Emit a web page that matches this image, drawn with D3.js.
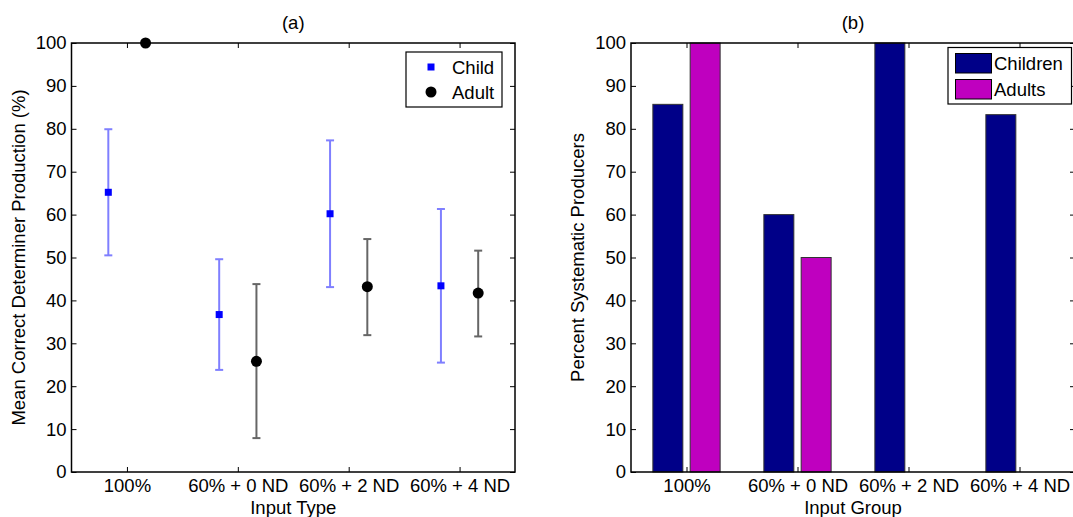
<!DOCTYPE html>
<html>
<head>
<meta charset="utf-8">
<script src="https://cdn.jsdelivr.net/npm/d3@7"></script>
<style>
  body { margin: 0; background: #fff; }
  svg text { font-family: "Liberation Sans", Arial, sans-serif; fill: #000; }
</style>
</head>
<body>
<div id="container"></div>
<script>
// data
const groups = ["100%", "60% + 0 ND", "60% + 2 ND", "60% + 4 ND"];
const childMean = [65.2, 36.7, 60.2, 43.4];
const childHi = [79.9, 49.6, 77.3, 61.3];
const childLo = [50.5, 23.8, 43.1, 25.5];
const adultMean = [100, 25.8, 43.2, 41.7];
const adultHi = [100, 43.8, 54.3, 51.6];
const adultLo = [100, 7.9, 31.9, 31.6];
const childrenPct = [85.7, 60, 100, 83.3];
const adultsPct = [100, 50, 0, 0];
const yTicks = [0, 10, 20, 30, 40, 50, 60, 70, 80, 90, 100];

const w = 1073, h = 517;
const yTop = 43, yBot = 472;
const fs = 18.5;

const svg = d3.select("#container").append("svg").attr("width", w).attr("height", h);

// shared axes drawing, matlab style box with inward ticks
function drawFrame(g, x, y, x0, x1, title, ylabel, xlabel) {
  g.append("g").attr("transform", "translate(" + x0 + ",0)")
    .call(d3.axisLeft(y).tickValues(yTicks).tickSizeInner(-5).tickSizeOuter(0).tickPadding(5))
    .call(a => a.select(".domain").remove())
    .call(a => a.selectAll("text").style("font-size", fs + "px"));
  g.append("g").attr("transform", "translate(" + x1 + ",0)")
    .call(d3.axisRight(y).tickValues(yTicks).tickSizeInner(-5).tickSizeOuter(0).tickFormat(""))
    .call(a => a.select(".domain").remove());
  g.append("g").attr("transform", "translate(0," + yBot + ")")
    .call(d3.axisBottom(x).tickValues([1, 2, 3, 4]).tickSizeInner(-5).tickSizeOuter(0).tickPadding(7)
      .tickFormat(i => groups[i - 1]))
    .call(a => a.select(".domain").remove())
    .call(a => a.selectAll("text").style("font-size", fs + "px"));
  g.append("g").attr("transform", "translate(0," + yTop + ")")
    .call(d3.axisTop(x).tickValues([1, 2, 3, 4]).tickSizeInner(-5).tickSizeOuter(0).tickFormat(""))
    .call(a => a.select(".domain").remove());
  g.selectAll(".tick line").attr("stroke", "#000");
  g.append("rect").attr("x", x0).attr("y", yTop).attr("width", x1 - x0).attr("height", yBot - yTop)
    .attr("fill", "none").attr("stroke", "#000").attr("stroke-width", 1.5);

  g.append("text").attr("x", (x0 + x1) / 2).attr("y", 29).attr("text-anchor", "middle")
    .style("font-size", fs + "px").text(title);
  g.append("text").attr("x", (x0 + x1) / 2).attr("y", 514).attr("text-anchor", "middle")
    .style("font-size", fs + "px").text(xlabel);
  g.append("text").attr("transform", "translate(" + (x0 - 47) + "," + ((yTop + yBot) / 2) + ") rotate(-90)")
    .attr("text-anchor", "middle").style("font-size", fs + "px").text(ylabel);
}

// ---------- panel (a) ----------
const ax0 = 71.5, ax1 = 515;
const xa = d3.scaleLinear().domain([0.5, 4.5]).range([ax0, ax1]);
const ya = d3.scaleLinear().domain([0, 100]).range([yBot, yTop]);
const pa = svg.append("g");
const off = 0.168;

const childPts = groups.map((g, i) => ({ x: i + 1 - off, m: childMean[i], hi: childHi[i], lo: childLo[i] }));
const adultPts = groups.map((g, i) => ({ x: i + 1 + off, m: adultMean[i], hi: adultHi[i], lo: adultLo[i] }));

function errBars(pts, color) {
  const eg = pa.append("g").attr("stroke", color).attr("stroke-width", 2);
  pts.filter(d => d.hi > d.lo).forEach(d => {
    const cx = xa(d.x);
    eg.append("line").attr("x1", cx).attr("x2", cx).attr("y1", ya(d.hi)).attr("y2", ya(d.lo));
    eg.append("line").attr("x1", cx - 4).attr("x2", cx + 4).attr("y1", ya(d.hi)).attr("y2", ya(d.hi));
    eg.append("line").attr("x1", cx - 4).attr("x2", cx + 4).attr("y1", ya(d.lo)).attr("y2", ya(d.lo));
  });
}
errBars(childPts, "#7f7fff");
errBars(adultPts, "#666");

drawFrame(pa, xa, ya, ax0, ax1, "(a)", "Mean Correct Determiner Production (%)", "Input Type");

pa.selectAll("rect.child").data(childPts).enter().append("rect").attr("class", "child")
  .attr("x", d => xa(d.x) - 3.5).attr("y", d => ya(d.m) - 3.5)
  .attr("width", 7).attr("height", 7).attr("fill", "#0000ff");
pa.selectAll("circle.adult").data(adultPts).enter().append("circle").attr("class", "adult")
  .attr("cx", d => xa(d.x)).attr("cy", d => ya(d.m)).attr("r", 5.5).attr("fill", "#000");

// legend (a)
const lg = pa.append("g");
lg.append("rect").attr("x", 406).attr("y", 52).attr("width", 96).attr("height", 55)
  .attr("fill", "#fff").attr("stroke", "#000").attr("stroke-width", 1.2);
lg.append("rect").attr("x", 431 - 3.5).attr("y", 67 - 3.5).attr("width", 7).attr("height", 7).attr("fill", "#0000ff");
lg.append("circle").attr("cx", 431).attr("cy", 92).attr("r", 5.5).attr("fill", "#000");
lg.append("text").attr("x", 452).attr("y", 73.5).style("font-size", fs + "px").text("Child");
lg.append("text").attr("x", 452).attr("y", 98.5).style("font-size", fs + "px").text("Adult");

// ---------- panel (b) ----------
const bx0 = 631, bx1 = 1075;
const xb = d3.scaleLinear().domain([0.5, 4.5]).range([bx0, bx1]);
const yb = d3.scaleLinear().domain([0, 100]).range([yBot, yTop]);
const pb = svg.append("g");
const bw = 0.27;
const series = [
  { name: "Children", vals: childrenPct, off: -off, color: "#000088" },
  { name: "Adults", vals: adultsPct, off: off, color: "#bf00bf" }
];
series.forEach(s => {
  pb.selectAll("rect.b" + s.name).data(s.vals.map((v, i) => ({ v: v, x: i + 1 + s.off })).filter(d => d.v > 0))
    .enter().append("rect").attr("class", "b" + s.name)
    .attr("x", d => xb(d.x - bw / 2)).attr("width", xb(bw) - xb(0))
    .attr("y", d => yb(d.v)).attr("height", d => yb(0) - yb(d.v))
    .attr("fill", s.color).attr("stroke", "#333").attr("stroke-width", 1);
});

drawFrame(pb, xb, yb, bx0, bx1, "(b)", "Percent Systematic Producers", "Input Group");

// legend (b)
const lb = pb.append("g");
lb.append("rect").attr("x", 948).attr("y", 47.5).attr("width", 123.5).attr("height", 56.5)
  .attr("fill", "#fff").attr("stroke", "#000").attr("stroke-width", 1.2);
series.forEach((s, i) => {
  lb.append("rect").attr("x", 955.5).attr("y", 53.5 + i * 26).attr("width", 36).attr("height", 19.5)
    .attr("fill", s.color).attr("stroke", "#000").attr("stroke-width", 1);
  lb.append("text").attr("x", 994).attr("y", 70 + i * 26).style("font-size", fs + "px").text(s.name);
});
</script>
</body>
</html>
